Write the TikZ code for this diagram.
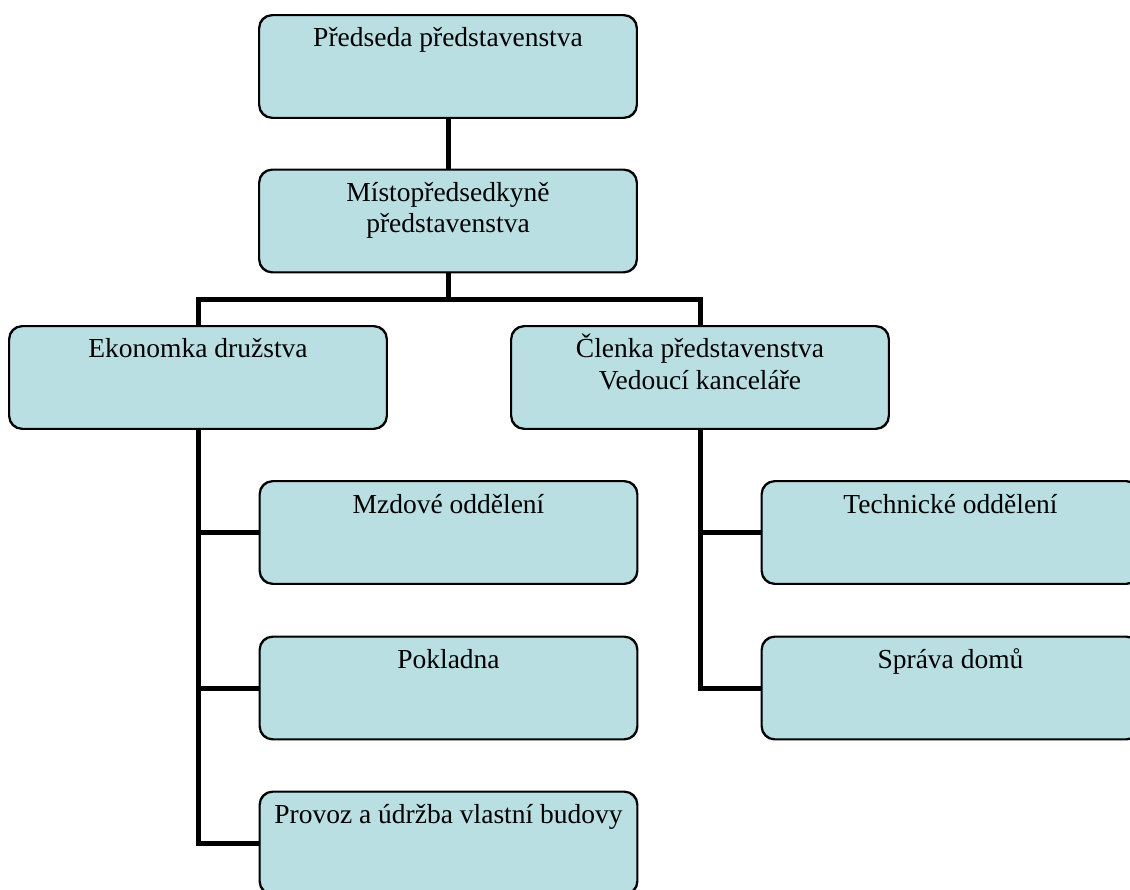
\documentclass[tikz,border=0pt]{standalone}
\usepackage{fontspec}
\setmainfont{Liberation Serif}
\definecolor{boxfill}{RGB}{185,223,227}
\def\hstrut{\rule{0pt}{25pt}}
\begin{document}
\begin{tikzpicture}[x=1pt,y=-1pt,
  orgbox/.style={draw=black,line width=1.4pt,fill=boxfill,rounded corners=13pt,
    minimum width=377pt,minimum height=102pt,inner sep=0pt},
  boxtext/.style={anchor=north,inner sep=0pt,align=center,
    font=\fontsize{27.5}{31.5}\selectfont},
  conn/.style={line width=5pt,line cap=butt}]
\useasboundingbox (0,0) rectangle (1130,890);
\clip (0,0) rectangle (1130,890);
\node[orgbox] (b1) at (448,66.5) {};
\node[orgbox] (b2) at (448,221) {};
\node[orgbox] (b3) at (198,377.5) {};
\node[orgbox] (b4) at (700,377.5) {};
\node[orgbox] (b5) at (448.5,532.5) {};
\node[orgbox] (b6) at (448.5,688) {};
\node[orgbox] (b7) at (448.5,843) {};
\node[orgbox] (b8) at (950.5,532.5) {};
\node[orgbox] (b9) at (950.5,688) {};
\coordinate (j1) at (448,300);
\coordinate (l1) at (b3.south |- b5.west);
\coordinate (l2) at (b3.south |- b6.west);
\coordinate (l3) at (b3.south |- b7.west);
\coordinate (r1) at (b4.south |- b8.west);
\coordinate (r2) at (b4.south |- b9.west);
\draw[conn] (b1.south) -- (b2.north);
\draw[conn] (b2.south) -- (j1);
\draw[conn] (j1) -| (b3.north);
\draw[conn] (j1) -| (b4.north);
\draw[conn] (b3.south) -- (l3) -- (b7.west);
\draw[conn] (l1) -- (b5.west);
\draw[conn] (l2) -- (b6.west);
\draw[conn] (b4.south) -- (r2) -- (b9.west);
\draw[conn] (r1) -- (b8.west);
% redraw box outlines over connector ends
\foreach \b in {b1,b2,b3,b4,b5,b6,b7,b8,b9}{
  \draw[line width=1.4pt,rounded corners=13pt] (\b.north west) rectangle (\b.south east);
}
\node[boxtext] (t1) at ([yshift=-7pt]b1.north) {\hstrut Předseda představenstva};
\node[boxtext] (t2) at ([yshift=-7pt]b2.north) {\hstrut Místopředsedkyně\\představenstva};
\node[boxtext] (t3) at ([yshift=-7pt]b3.north) {\hstrut Ekonomka družstva};
\node[boxtext] (t4) at ([yshift=-7pt]b4.north) {\hstrut Členka představenstva\\Vedoucí kanceláře};
\node[boxtext] (t5) at ([yshift=-7pt]b5.north) {\hstrut Mzdové oddělení};
\node[boxtext] (t6) at ([yshift=-7pt]b6.north) {\hstrut Pokladna};
\node[boxtext] (t7) at ([yshift=-7pt]b7.north) {\hstrut Provoz a údržba vlastní budovy};
\node[boxtext] (t8) at ([yshift=-7pt]b8.north) {\hstrut Technické oddělení};
\node[boxtext] (t9) at ([yshift=-7pt]b9.north) {\hstrut Správa domů};
\end{tikzpicture}
\end{document}
